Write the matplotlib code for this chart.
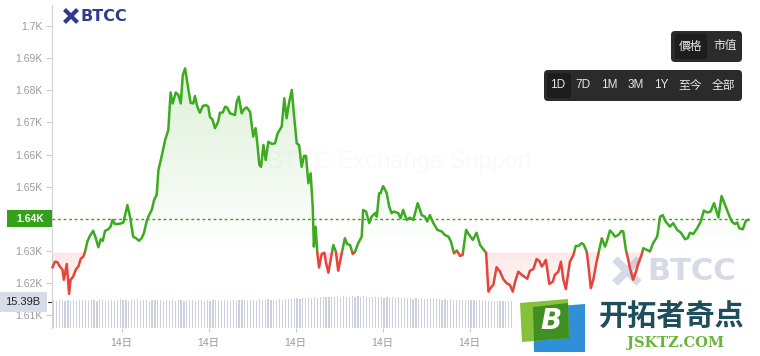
import matplotlib.pyplot as plt
import numpy as np
from matplotlib.patches import Rectangle, FancyBboxPatch, Polygon, PathPatch
from matplotlib.path import Path
from matplotlib.transforms import blended_transform_factory
from matplotlib.colors import to_rgb

plt.rcParams['font.family'] = ['Liberation Sans', 'Noto Sans CJK SC', 'DejaVu Sans']

# hours since the start of the 1D window, and price (USD)
hours = [
    0.02, 0.10, 0.18, 0.28, 0.36, 0.41, 0.51, 0.59, 0.64, 0.73,
    0.83, 0.91, 0.99, 1.08, 1.14, 1.22, 1.31, 1.42, 1.51, 1.60,
    1.68, 1.75, 1.83, 1.94, 2.02, 2.09, 2.17, 2.34, 2.46, 2.60,
    2.69, 2.80, 2.90, 3.00, 3.09, 3.17, 3.27, 3.38, 3.44, 3.52,
    3.61, 3.67, 3.78, 3.90, 4.01, 4.09, 4.16, 4.27, 4.36, 4.44,
    4.51, 4.59, 4.68, 4.78, 4.87, 4.93, 5.01, 5.10, 5.20, 5.31,
    5.39, 5.45, 5.53, 5.62, 5.73, 5.79, 5.89, 5.97, 6.04, 6.14,
    6.25, 6.31, 6.37, 6.44, 6.54, 6.62, 6.71, 6.83, 6.94, 7.02,
    7.08, 7.15, 7.21, 7.29, 7.37, 7.46, 7.58, 7.69, 7.78, 7.92,
    8.01, 8.09, 8.17, 8.27, 8.34, 8.44, 8.52, 8.61, 8.69, 8.76,
    8.84, 8.92, 8.99, 9.03, 9.09, 9.15, 9.21, 9.30, 9.39, 9.45,
    9.53, 9.61, 9.70, 9.79, 9.87, 9.99, 10.10, 10.18, 10.28, 10.37,
    10.45, 10.56, 10.68, 10.73, 10.83, 10.94, 11.02, 11.14, 11.20, 11.28,
    11.33, 11.42, 11.54, 11.63, 11.71, 11.79, 11.94, 12.02, 12.11, 12.23,
    12.34, 12.46, 12.61, 12.75, 12.86, 12.94, 13.03, 13.15, 13.29, 13.44,
    13.55, 13.67, 13.76, 13.86, 13.96, 14.07, 14.16, 14.28, 14.39, 14.51,
    14.64, 14.76, 14.87, 14.97, 15.05, 15.16, 15.22, 15.33, 15.45, 15.56,
    15.68, 15.79, 15.89, 15.97, 16.08, 16.20, 16.31, 16.39, 16.48, 16.60,
    16.71, 16.80, 16.89, 16.97, 17.03, 17.15, 17.27, 17.34, 17.46, 17.55,
    17.63, 17.72, 17.86, 17.98, 18.06, 18.15, 18.27, 18.34, 18.44, 18.49,
    18.58, 18.67, 18.78, 18.87, 18.96, 19.07, 19.13, 19.24, 19.33, 19.41,
    19.53, 19.64, 19.70, 19.79, 19.87, 19.93, 20.04, 20.14, 20.22, 20.33,
    20.39, 20.51, 20.62, 20.73, 20.87, 20.97, 21.06, 21.16, 21.31, 21.42,
    21.56, 21.69, 21.83, 21.92, 22.00, 22.11, 22.25, 22.37, 22.48, 22.60,
    22.71, 22.83, 22.98, 23.09, 23.21, 23.32, 23.44, 23.55, 23.63, 23.70,
    23.82, 23.86, 23.93, 24.01]
price = [
    1625.0, 1626.7, 1626.6, 1625.1, 1624.2, 1621.1, 1626.0, 1616.7, 1621.1, 1622.1,
    1624.4, 1625.2, 1627.6, 1628.3, 1629.8, 1633.0, 1634.8, 1636.3, 1634.0, 1631.2,
    1633.7, 1633.2, 1636.3, 1636.8, 1637.6, 1639.7, 1638.4, 1638.5, 1638.9, 1644.3,
    1640.7, 1634.5, 1634.0, 1633.2, 1634.0, 1635.6, 1639.5, 1641.8, 1642.8, 1645.9,
    1647.5, 1655.2, 1659.4, 1664.5, 1667.6, 1679.3, 1675.9, 1679.3, 1678.5, 1675.9,
    1684.7, 1686.8, 1681.6, 1676.1, 1675.9, 1678.2, 1674.9, 1673.0, 1675.1, 1675.4,
    1674.9, 1671.6, 1671.0, 1668.2, 1670.2, 1673.0, 1673.1, 1674.9, 1674.6, 1672.8,
    1672.5, 1672.3, 1676.4, 1678.0, 1672.8, 1674.1, 1674.7, 1673.3, 1665.6, 1668.2,
    1663.5, 1656.8, 1656.2, 1663.0, 1658.3, 1664.0, 1663.3, 1663.5, 1666.6, 1668.7,
    1677.5, 1671.3, 1675.9, 1680.1, 1672.8, 1663.5, 1663.0, 1656.2, 1659.6, 1659.6,
    1651.1, 1654.2, 1643.8, 1631.4, 1637.6, 1629.3, 1624.9, 1629.1, 1629.5, 1626.4,
    1623.3, 1627.3, 1631.9, 1629.8, 1623.9, 1629.3, 1634.0, 1632.2, 1631.9, 1629.1,
    1629.8, 1632.5, 1634.5, 1642.8, 1642.3, 1638.7, 1640.7, 1641.8, 1640.7, 1648.0,
    1648.0, 1650.2, 1648.1, 1643.8, 1641.8, 1642.3, 1641.8, 1640.2, 1642.8, 1639.7,
    1640.4, 1639.7, 1644.9, 1641.2, 1640.7, 1639.2, 1641.2, 1638.7, 1636.6, 1636.1,
    1635.0, 1634.5, 1632.9, 1629.3, 1630.2, 1628.5, 1628.8, 1636.6, 1635.0, 1633.5,
    1635.7, 1631.9, 1630.6, 1629.5, 1617.4, 1619.0, 1619.5, 1625.0, 1623.6, 1621.3,
    1620.0, 1619.5, 1617.4, 1620.5, 1623.6, 1622.6, 1621.9, 1621.4, 1623.9, 1624.4,
    1627.5, 1627.0, 1625.2, 1626.2, 1627.3, 1619.8, 1620.5, 1622.6, 1623.6, 1626.7,
    1621.3, 1618.2, 1626.7, 1628.8, 1631.6, 1631.6, 1632.5, 1631.9, 1629.8, 1626.2,
    1618.5, 1621.3, 1626.7, 1630.4, 1634.0, 1631.4, 1632.9, 1636.4, 1635.6, 1634.5,
    1635.0, 1636.3, 1636.1, 1630.4, 1627.3, 1624.7, 1621.1, 1623.6, 1626.2, 1628.8,
    1630.9, 1630.4, 1629.9, 1632.5, 1634.5, 1640.7, 1641.2, 1639.2, 1637.6, 1638.7,
    1636.6, 1635.7, 1633.7, 1634.0, 1635.7, 1635.3, 1637.1, 1639.2, 1642.6, 1642.0,
    1642.3, 1644.9, 1640.5, 1647.1, 1644.3, 1641.8, 1639.2, 1638.4, 1638.9, 1637.1,
    1636.8, 1637.8, 1639.5, 1639.7]

# volume (billions), one bar every 0.1 h
vol_start = 0.05
vol_step = 0.1
volume = [
    16.4, 16.1, 16.6, 16.3, 15.9, 16.5, 16.2, 16.7, 16.0, 16.4, 16.3, 16.8, 16.1, 16.5, 16.6, 16.2, 16.9, 16.3, 16.0, 16.6,
    16.8, 16.2, 16.5, 17.0, 16.3, 16.6, 16.1, 16.7, 16.4, 16.9, 16.2, 16.5, 16.8, 16.0, 16.6, 16.3, 16.7, 16.4, 16.1, 16.5,
    16.2, 16.6, 16.0, 16.4, 16.8, 16.1, 16.5, 16.3, 16.7, 15.9, 16.4, 16.6, 16.2, 16.8, 16.0, 16.5, 16.3, 16.6, 16.1, 16.4,
    16.7, 16.2, 16.5, 16.0, 16.6, 16.3, 16.8, 16.1, 16.4, 16.7, 16.2, 16.9, 16.5, 16.3, 17.0, 16.6, 16.8, 16.4, 17.1, 16.7,
    17.2, 16.9, 17.4, 17.0, 17.6, 17.3, 17.8, 17.5, 18.0, 17.7, 18.2, 17.9, 18.4, 18.1, 18.5, 18.2, 18.6, 18.3, 18.7, 18.4,
    18.8, 18.5, 18.6, 18.9, 18.4, 18.7, 18.3, 18.8, 18.5, 18.2, 18.6, 18.4, 18.1, 18.5, 18.0, 18.3, 17.9, 18.2, 17.8, 18.1,
    17.7, 18.0, 17.6, 17.8, 17.4, 17.7, 17.3, 17.5, 17.2, 17.4, 17.0, 17.3, 16.9, 17.1, 16.8, 17.0, 16.7, 16.9, 16.6, 16.8,
    16.5, 16.7, 16.4, 16.6, 16.3, 16.5, 16.2, 16.4, 16.1, 16.3, 16.0, 16.2, 15.9, 16.1, 15.8, 16.0, 15.9, 15.7, 15.8, 16.0,
    15.9, 16.1, 15.8, 16.0, 16.2, 15.9, 16.1, 15.7, 16.0, 16.3, 15.8, 16.1, 15.9, 16.2, 16.0, 15.8, 16.1, 16.3, 15.9, 16.0,
    16.2, 15.9, 16.1, 16.4, 16.0, 16.2, 15.8, 16.1, 16.3, 16.0, 16.5, 16.2, 16.0, 16.4, 16.1, 16.3, 15.9, 16.2, 16.0, 16.3,
    16.1, 16.4, 16.2, 16.0, 16.5, 16.3, 16.1, 16.6, 16.2, 16.4, 16.0, 16.3, 16.5, 16.1, 16.4, 16.2, 16.6, 16.3, 16.1, 16.4,
    16.2, 16.5, 16.0, 16.3, 16.6, 16.2, 16.4, 16.1, 16.5, 16.3, 16.0, 16.4, 16.2, 16.6, 16.3, 16.1, 16.4, 16.2, 16.5, 16.3]

base_price = 1629.6      # colour switch level (open)
last_price = 1640.0
vol_label = 15.39
y_ticks = [1610, 1620, 1630, 1640, 1650, 1660, 1670, 1680, 1690, 1700]
x_ticks = [2.4, 5.4, 8.4, 11.4, 14.4]
x_labels = ['14日'] * len(x_ticks)
mode_buttons = ['價格', '市值']
range_buttons = ['1D', '7D', '1M', '3M', '1Y', '至今', '全部']

GREEN = '#3dab1f'
RED = '#e4443b'
W, H = 760, 356

hours = np.array(hours)
price = np.array(price)
vol_hours = vol_start + vol_step * np.arange(len(volume))

fig = plt.figure(figsize=(W / 100, H / 100), dpi=100)
fig.patch.set_facecolor('white')
rect = [52 / W, 28 / H, 698 / W, 323 / H]
x_range = (0, 24.07)
y_range = (1606.1, 1706.5)

# background watermarks (pixel coords)
back = fig.add_axes([0, 0, 1, 1], zorder=0)
back.set_xlim(0, W)
back.set_ylim(H, 0)
back.axis('off')
back.text(400, 162, 'BTCC Exchange Support', fontsize=17, color='#000000', alpha=0.025,
          ha='center', va='center')
wm = '#d6dae7'
back.plot([615, 639], [259, 283], color=wm, lw=5.5, solid_capstyle='butt')
back.plot([615, 639], [283, 259], color=wm, lw=5.5, solid_capstyle='butt')
back.add_patch(Polygon([(627, 265), (633, 271), (627, 277), (621, 271)], closed=True, fc='white', ec='none'))
back.text(647, 271, 'BTCC', fontsize=22, fontweight='bold', color=wm, ha='left', va='center',
          family='DejaVu Sans')
navy = '#2f3b8f'
back.plot([64.5, 77.5], [9.5, 22.5], color=navy, lw=3, solid_capstyle='butt')
back.plot([64.5, 77.5], [22.5, 9.5], color=navy, lw=3, solid_capstyle='butt')
back.add_patch(Polygon([(71, 13.5), (73.5, 16), (71, 18.5), (68.5, 16)], closed=True, fc='white', ec='none'))
back.text(81, 16.5, 'BTCC', fontsize=11.5, fontweight='bold', color=navy, ha='left', va='center',
          family='DejaVu Sans')

# volume bars
vax = fig.add_axes(rect, zorder=1)
vax.patch.set_visible(False)
vax.bar(vol_hours, volume, width=0.04, color='#cdd1de', linewidth=0)
vax.set_xlim(*x_range)
vax.set_ylim(0, vol_label * 323 / 26)
vax.axis('off')

# price chart
ax = fig.add_axes(rect, zorder=2)
ax.patch.set_visible(False)


def gradient_fill(ax, x, y, base, color, above, y_far, a_near, a_far):
    mask = y >= base if above else y <= base
    coll = ax.fill_between(x, y, base, where=mask, interpolate=True, facecolor='none', edgecolor='none')
    clip = PathPatch(Path.make_compound_path(*coll.get_paths()), transform=ax.transData,
                     facecolor='none', edgecolor='none')
    ax.add_patch(clip)
    img = np.zeros((256, 1, 4))
    img[:, :, :3] = to_rgb(color)
    lo, hi = (base, y_far) if above else (y_far, base)
    a_top, a_bot = (a_far, a_near) if above else (a_near, a_far)
    img[:, 0, 3] = np.linspace(a_top, a_bot, 256)
    im = ax.imshow(img, extent=[x[0], x[-1], lo, hi], origin='upper', aspect='auto', zorder=1)
    im.set_clip_path(clip)


gradient_fill(ax, hours, price, base_price, GREEN, True, y_range[1], 0.0, 0.24)
gradient_fill(ax, hours, price, base_price, RED, False, 1612, 0.12, 0.0)

line_g, = ax.plot(hours, price, color=GREEN, lw=1.8, zorder=4)
line_g.set_clip_path(Rectangle((-1, base_price), 30, 200, transform=ax.transData))
line_r, = ax.plot(hours, price, color=RED, lw=1.8, zorder=4)
line_r.set_clip_path(Rectangle((-1, base_price - 200), 30, 200, transform=ax.transData))

ax.axhline(last_price, color='#38a01c', lw=1.0, ls=(0, (2, 2)), zorder=3)

ax.set_xlim(*x_range)
ax.set_ylim(*y_range)
ax.set_yticks(y_ticks)
# the 1.64K tick sits under the current-price box
ax.set_yticklabels(['' if v == last_price else f'{v / 1000:g}K' for v in y_ticks])
ax.set_xticks(x_ticks)
ax.set_xticklabels(x_labels)
ax.tick_params(axis='y', length=4, color='#cccccc', labelcolor='#999999', labelsize=7.5, pad=3)
ax.tick_params(axis='x', length=3, color='#cccccc', labelcolor='#999999', labelsize=7.5, pad=4)
for s in ['top', 'right', 'bottom']:
    ax.spines[s].set_visible(False)
ax.spines['left'].set_color('#d4d4d4')
ax.spines['left'].set_linewidth(0.8)

# current price marker
tr = blended_transform_factory(ax.transAxes, ax.transData)
ax.add_patch(Rectangle((-45 / 698, last_price - 2.65), 45 / 698, 5.3, transform=tr,
                       fc='#35a01a', ec='none', clip_on=False, zorder=6))
ax.text(-22 / 698, last_price, f'{last_price / 1000:.2f}K', transform=tr, color='white',
        fontsize=7.5, fontweight='bold', ha='center', va='center', zorder=7, clip_on=False)

# volume scale marker
trv = blended_transform_factory(ax.transAxes, vax.transData)
ax.add_patch(Rectangle((-52 / 698, vol_label - 6.0), 47 / 698, 12.0, transform=trv,
                       fc='#d8dce8', ec='none', clip_on=False, zorder=6))
ax.text(-29 / 698, vol_label, f'{vol_label:.2f}B', transform=trv, color='#222222',
        fontsize=8, ha='center', va='center', zorder=7, clip_on=False)
ax.plot([-4 / 698, -1 / 698], [vol_label, vol_label], transform=trv, color='#333333',
        lw=0.8, clip_on=False, zorder=7)

# foreground: buttons and site logo (pixel coords)
front = fig.add_axes([0, 0, 1, 1], zorder=5)
front.set_xlim(0, W)
front.set_ylim(H, 0)
front.axis('off')
front.patch.set_visible(False)

front.add_patch(FancyBboxPatch((671, 31), 71, 31, boxstyle='round,pad=0,rounding_size=4',
                               fc='#2b2b2b', ec='none'))
front.add_patch(FancyBboxPatch((675, 34), 32, 25, boxstyle='round,pad=0,rounding_size=2',
                               fc='#1d1d1d', ec='none'))
for lab, xc in zip(mode_buttons, [691, 725]):
    front.text(xc, 46.5, lab, color='#e6e6e6', fontsize=8.5, ha='center', va='center')

front.add_patch(FancyBboxPatch((544, 70), 198, 31, boxstyle='round,pad=0,rounding_size=4',
                               fc='#2b2b2b', ec='none'))
front.add_patch(FancyBboxPatch((547, 73), 24, 25, boxstyle='round,pad=0,rounding_size=2',
                               fc='#1d1d1d', ec='none'))
for lab, xc in zip(range_buttons, [558, 583, 609, 636, 661, 690, 723]):
    front.text(xc, 85.5, lab, color='#e6e6e6', fontsize=8.5, ha='center', va='center')

front.add_patch(Rectangle((513, 294), W - 513, H - 294, fc='white', ec='none'))
front.add_patch(Polygon([(533, 308), (585, 304), (585, 352), (534, 352)], closed=True, fc='#2f8fd8', ec='none'))
front.add_patch(Polygon([(520, 303), (568, 299), (569, 338), (522, 342)], closed=True, fc='#85c13a', ec='none'))
front.add_patch(Polygon([(533, 307), (568, 303), (569, 338), (534, 341)], closed=True, fc='#3f8f22', ec='none'))
front.text(551, 321, 'B', color='white', fontsize=20, fontweight='bold', style='italic',
           ha='center', va='center', family='DejaVu Sans')
front.text(599, 317, '开拓者奇点', color='#1e4d5b', fontsize=21, fontweight='bold',
           ha='left', va='center', family=['Noto Sans CJK SC', 'DejaVu Sans'])
front.text(627, 342.5, 'JSKTZ.COM', color='#6cb33e', fontsize=10.5, fontweight='bold',
           ha='left', va='center', family='DejaVu Serif')

fig.savefig('out.png', dpi=100)
